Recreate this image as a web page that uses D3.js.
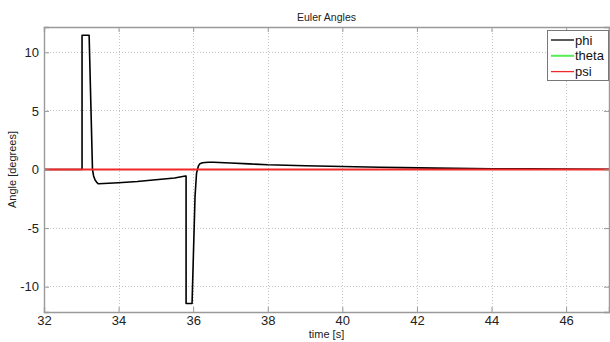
<!DOCTYPE html>
<html><head><meta charset="utf-8">
<script src="https://cdn.jsdelivr.net/npm/d3@7"></script>
<style>
html,body{margin:0;padding:0;background:#fff;}
svg{display:block;font-family:"Liberation Sans",Arial,sans-serif;}
</style></head>
<body><svg id="c" width="610" height="342"></svg>
<script>
const title = "Euler Angles";
const xLabel = "time [s]";
const yLabel = "Angle [degrees]";
const xTicks = [32,34,36,38,40,42,44,46];
const yTicks = [-10,-5,0,5,10];
const xDomain = [32, 47.15];
const yDomain = [-12.16, 12.16];
const seriesNames = ["phi","theta","psi"];
const seriesColors = ["#000000","#55ee55","#f02828"];

const phiTime = [32,33.02,33.02,33.21,33.30,33.33,33.37,33.42,33.46,33.6,34.0,34.5,35.0,35.5,35.79,35.81,35.81,35.97,36.0,36.05,36.09,36.14,36.18,36.25,36.4,36.55,37,37.5,38,39,40,41,41.6,42.5,43,44,45,46,47.15];
const phiValues = [0,0,11.46,11.46,0,-0.55,-0.9,-1.12,-1.22,-1.2,-1.13,-1.03,-0.88,-0.72,-0.56,-0.55,-11.43,-11.43,-8.0,-2.3,-0.32,0.3,0.5,0.58,0.62,0.62,0.56,0.48,0.40,0.32,0.25,0.19,0.16,0.12,0.1,0.07,0.05,0.03,0.02];
const flatTime = [32, 47.15];
const thetaValues = [0, 0];
const psiValues = [0, 0];

const svg = d3.select("#c");
const L=44, R=609, T=27, B=312;
const x = d3.scaleLinear().domain(xDomain).range([L,R]);
const y = d3.scaleLinear().domain(yDomain).range([B,T]);

// grid
const grid = svg.append("g");
grid.selectAll("line.gx").data(xTicks).join("line")
  .attr("x1",d=>Math.round(x(d))+0.5).attr("x2",d=>Math.round(x(d))+0.5).attr("y1",T).attr("y2",B)
  .attr("stroke","#c4c4c4").attr("stroke-width",1).attr("stroke-dasharray","1,2");
grid.selectAll("line.gy").data(yTicks).join("line")
  .attr("y1",d=>Math.round(y(d)-0.5)+0.5).attr("y2",d=>Math.round(y(d)-0.5)+0.5).attr("x1",L).attr("x2",R)
  .attr("stroke","#c4c4c4").attr("stroke-width",1).attr("stroke-dasharray","1,2");

// series
svg.append("clipPath").attr("id","pc").append("rect")
  .attr("x",L).attr("y",T).attr("width",R-L).attr("height",B-T);
const plot = svg.append("g").attr("clip-path","url(#pc)");
const line = d3.line().x(d=>x(d[0])).y(d=>y(d[1]));
const series = [
  phiTime.map((t,i)=>[t,phiValues[i]]),
  flatTime.map((t,i)=>[t,thetaValues[i]]),
  flatTime.map((t,i)=>[t,psiValues[i]])
];
const widths = [1.6, 1, 2];
series.forEach((s,i)=>{
  plot.append("path").datum(s).attr("d",line).attr("fill","none")
    .attr("stroke",seriesColors[i]).attr("stroke-width",widths[i]).attr("stroke-linejoin","round");
});

// axes
const axCol = "#9a9a9a";
const fmt = d => String(d);
const gBottom = svg.append("g").attr("transform",`translate(0,${B})`)
  .call(d3.axisBottom(x).tickValues(xTicks).tickSize(-5).tickPadding(4).tickFormat(fmt));
const gTop = svg.append("g").attr("transform",`translate(0,${T})`)
  .call(d3.axisTop(x).tickValues(xTicks).tickSize(-5).tickFormat(""));
const gLeft = svg.append("g").attr("transform",`translate(${L},0)`)
  .call(d3.axisLeft(y).tickValues(yTicks).tickSize(-5).tickPadding(5).tickFormat(fmt));
const gRight = svg.append("g").attr("transform",`translate(${R},0)`)
  .call(d3.axisRight(y).tickValues(yTicks).tickSize(-5).tickFormat(""));
[gBottom,gTop,gLeft,gRight].forEach(g=>{
  g.select(".domain").attr("stroke",axCol).attr("stroke-width",1.4);
  g.selectAll(".tick line").attr("stroke",axCol).attr("stroke-width",1);
  g.selectAll(".tick text").attr("fill","#222").attr("font-size",13)
    .attr("font-family","'Liberation Sans',Arial,sans-serif");
});
gBottom.selectAll(".tick text").attr("dy","0.71em");

// labels
svg.append("text").attr("x",(L+R)/2).attr("y",21).attr("text-anchor","middle")
  .attr("font-size",10.5).attr("fill","#222").text(title);
svg.append("text").attr("x",(L+R)/2).attr("y",338).attr("text-anchor","middle")
  .attr("font-size",11).attr("fill","#222").text(xLabel);
svg.append("text").attr("transform",`translate(16,${(T+B)/2}) rotate(-90)`)
  .attr("text-anchor","middle").attr("font-size",11).attr("fill","#222").text(yLabel);

// legend
const lg = svg.append("g");
lg.append("rect").attr("x",547.5).attr("y",30.5).attr("width",61).attr("height",50)
  .attr("fill","#fff").attr("stroke","#777").attr("stroke-width",1);
seriesNames.forEach((n,i)=>{
  const yy = 40 + i*15.8;
  lg.append("line").attr("x1",551).attr("x2",574).attr("y1",yy).attr("y2",yy)
    .attr("stroke",seriesColors[i]).attr("stroke-width",i===1?2:1.3);
  lg.append("text").attr("x",575).attr("y",yy).attr("dy","0.35em")
    .attr("font-size",13).attr("fill","#111").text(n);
});
</script></body></html>
